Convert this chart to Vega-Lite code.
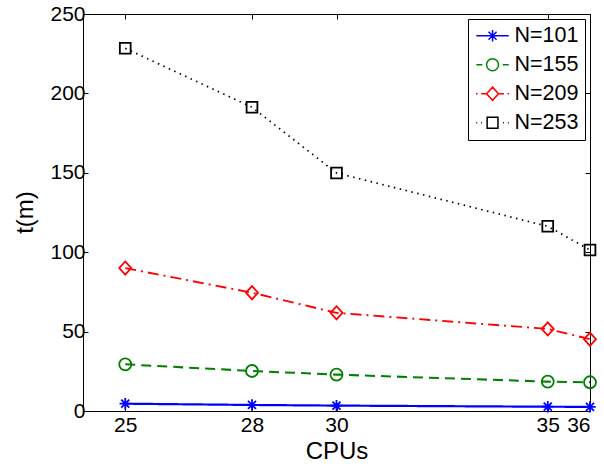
{
  "$schema": "https://vega.github.io/schema/vega-lite/v6.json",
  "width": 507,
  "height": 397,
  "autosize": {"type": "none"},
  "padding": {"left": 83, "top": 14, "right": 14, "bottom": 62},
  "config": {
    "font": "Liberation Sans",
    "view": {"stroke": "black", "strokeWidth": 1},
    "axis": {
      "domainColor": "black", "tickColor": "black", "labelColor": "black", "titleColor": "black",
      "labelFont": "Liberation Sans", "titleFont": "Liberation Sans",
      "labelFontSize": 21, "titleFontSize": 24, "titleFontWeight": "normal",
      "tickSize": -5, "grid": false, "domainWidth": 1, "tickWidth": 1
    },
    "legend": {
      "labelFont": "Liberation Sans", "labelFontSize": 21.5, "labelColor": "black"
    }
  },
  "data": {
    "values": [
      {"cpu": 25, "t": 4.6, "N": "N=101"},
      {"cpu": 28, "t": 3.8, "N": "N=101"},
      {"cpu": 30, "t": 3.4, "N": "N=101"},
      {"cpu": 35, "t": 2.7, "N": "N=101"},
      {"cpu": 36, "t": 2.6, "N": "N=101"},
      {"cpu": 25, "t": 29.4, "N": "N=155"},
      {"cpu": 28, "t": 25.2, "N": "N=155"},
      {"cpu": 30, "t": 22.9, "N": "N=155"},
      {"cpu": 35, "t": 18.5, "N": "N=155"},
      {"cpu": 36, "t": 18.1, "N": "N=155"},
      {"cpu": 25, "t": 90.0, "N": "N=209"},
      {"cpu": 28, "t": 74.5, "N": "N=209"},
      {"cpu": 30, "t": 61.8, "N": "N=209"},
      {"cpu": 35, "t": 51.7, "N": "N=209"},
      {"cpu": 36, "t": 45.2, "N": "N=209"},
      {"cpu": 25, "t": 228.4, "N": "N=253"},
      {"cpu": 28, "t": 191.3, "N": "N=253"},
      {"cpu": 30, "t": 149.9, "N": "N=253"},
      {"cpu": 35, "t": 116.3, "N": "N=253"},
      {"cpu": 36, "t": 101.4, "N": "N=253"}
    ]
  },
  "layer": [
    {
      "mark": {"type": "line"},
      "encoding": {
        "x": {"field": "cpu", "type": "quantitative",
          "scale": {"domain": [24, 36], "nice": false, "zero": false},
          "axis": {"orient": "bottom", "values": [25, 28, 30, 35, 36], "title": "CPUs", "labelPadding": 8,
            "titleY": 47, "titleBaseline": "alphabetic"}},
        "y": {"field": "t", "type": "quantitative",
          "scale": {"domain": [0, 250], "nice": false},
          "axis": {"orient": "left", "values": [0, 50, 100, 150, 200, 250], "title": "t(m)", "labelPadding": 3,
            "titleX": -51, "titleY": 198, "titleAngle": -90, "titleAlign": "center", "titleBaseline": "alphabetic"}},
        "color": {"field": "N", "type": "nominal",
          "scale": {"domain": ["N=101", "N=155", "N=209", "N=253"], "range": ["#0000ff", "#008000", "#ff0000", "#000000"]},
          "legend": null},
        "strokeDash": {"field": "N", "type": "nominal",
          "scale": {"domain": ["N=101", "N=155", "N=209", "N=253"], "range": [[1, 0], [10, 6], [11, 5, 2, 5], [1.5, 4.5]]},
          "legend": null},
        "strokeWidth": {"field": "N", "type": "nominal",
          "scale": {"domain": ["N=101", "N=155", "N=209", "N=253"], "range": [2.2, 1.7, 1.6, 1.3]},
          "legend": null}
      }
    },
    {
      "mark": {"type": "point", "filled": false, "strokeWidth": 1.8, "size": 144, "opacity": 1},
      "encoding": {
        "x": {"field": "cpu", "type": "quantitative", "axis": null},
        "y": {"field": "t", "type": "quantitative", "axis": null},
        "color": {"field": "N", "type": "nominal",
          "scale": {"domain": ["N=101", "N=155", "N=209", "N=253"], "range": ["#0000ff", "#008000", "#ff0000", "#000000"]},
          "legend": null},
        "shape": {"field": "N", "type": "nominal",
          "scale": {"domain": ["N=101", "N=155", "N=209", "N=253"],
            "range": [
              "M0,-0.95L0,0.95M-0.95,0L0.95,0M-0.67,-0.67L0.67,0.67M-0.67,0.67L0.67,-0.67",
              "M1,0A1,1,0,1,1,-1,0A1,1,0,1,1,1,0Z",
              "M-1,0L0,-1.1L1,0L0,1.1Z",
              "M-0.9,-0.9L0.9,-0.9L0.9,0.9L-0.9,0.9Z"
            ]},
          "legend": null}
      }
    },
    {
      "mark": {"type": "point", "filled": false, "opacity": 0, "strokeWidth": 1.5},
      "encoding": {
        "x": {"field": "cpu", "type": "quantitative",
          "axis": {"orient": "top", "values": [25, 28, 30, 35, 36], "labels": false, "title": null, "domain": false}},
        "y": {"field": "t", "type": "quantitative",
          "axis": {"orient": "right", "values": [0, 50, 100, 150, 200, 250], "labels": false, "title": null, "domain": false}},
        "color": {"field": "N", "type": "nominal",
          "scale": {"domain": ["N=101", "N=155", "N=209", "N=253"], "range": ["#0000ff", "#008000", "#ff0000", "#000000"]},
          "legend": {
            "title": null, "orient": "top-right", "offset": 5, "padding": 6,
            "strokeColor": "black", "fillColor": "white", "symbolOpacity": 1,
            "symbolSize": 144, "symbolStrokeWidth": 1.5, "symbolOffset": 3, "labelOffset": 16, "rowPadding": 6
          }},
        "shape": {"field": "N", "type": "nominal",
          "scale": {"domain": ["N=101", "N=155", "N=209", "N=253"],
            "range": [
              "M-1.9,0L3.5,0M0.8,-0.95L0.8,0.95M-0.15,0L1.75,0M0.13,-0.67L1.47,0.67M0.13,0.67L1.47,-0.67",
              "M-1.9,0L-0.9,0M2.5,0L3.5,0M1.8,0A1,1,0,1,1,-0.2,0A1,1,0,1,1,1.8,0Z",
              "M-1.95,0L-1.7,0M-1.1,0L-0.25,0M1.85,0L2.7,0M3.3,0L3.55,0M-0.2,0L0.8,-1.1L1.8,0L0.8,1.1Z",
              "M-1.9,0L-1.75,0M-1.1,0L-0.95,0M2.55,0L2.7,0M3.35,0L3.5,0M-0.1,-0.9L1.7,-0.9L1.7,0.9L-0.1,0.9Z"
            ]},
          "legend": {
            "title": null, "orient": "top-right", "offset": 5, "padding": 6,
            "strokeColor": "black", "fillColor": "white", "symbolOpacity": 1,
            "symbolSize": 144, "symbolStrokeWidth": 1.5, "symbolOffset": 3, "labelOffset": 16, "rowPadding": 6
          }}
      }
    }
  ],
  "resolve": {
    "axis": {"x": "independent", "y": "independent"},
    "scale": {"color": "independent", "shape": "independent", "strokeDash": "independent", "strokeWidth": "independent"}
  }
}
